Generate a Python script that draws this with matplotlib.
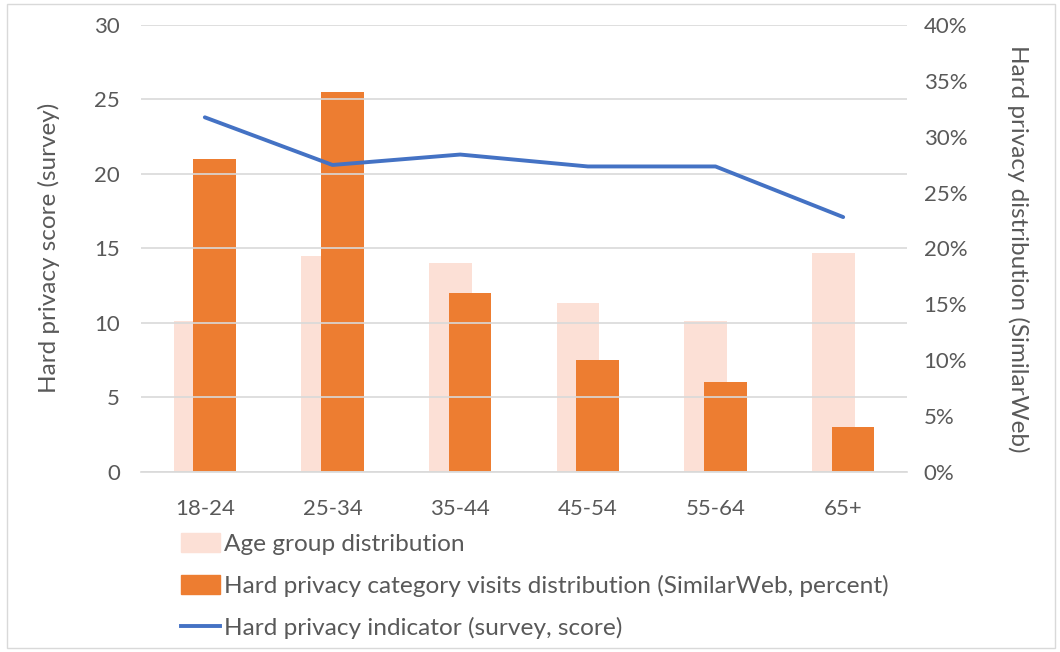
import matplotlib
matplotlib.use("Agg")
import matplotlib.pyplot as plt
import numpy as np
from matplotlib.patches import Rectangle
from matplotlib.lines import Line2D
from matplotlib.ticker import FuncFormatter

age_groups = ["18-24", "25-34", "35-44", "45-54", "55-64", "65+"]
age_distribution = [13.5, 19.3, 18.7, 15.1, 13.5, 19.6]          # percent
visits_distribution = [28, 34, 16, 10, 8, 4]                    # percent
privacy_score = [23.8, 20.6, 21.3, 20.5, 20.5, 17.1]            # survey score

TEXT = "#595959"
GRID = "#D9D9D9"
ORANGE = "#ED7D31"
PINK = "#FCE0D6"
BLUE = "#4472C4"

plt.rcParams["font.family"] = ["Lato", "DejaVu Sans"]

fig = plt.figure(figsize=(10.6, 6.52), dpi=100)
ax = fig.add_axes([141 / 1060, 1 - 471.7 / 652, 766 / 1060, 446.7 / 652])
ax2 = ax.twinx()

x = np.arange(len(age_groups))
w = 0.335
off = 0.077
ax2.bar(x - off, age_distribution, width=w, color=PINK, zorder=2)
ax2.bar(x + off, visits_distribution, width=w, color=ORANGE, zorder=3)
ax2.set_ylim(0, 40)
ax2.set_yticks(range(0, 41, 5))
ax2.yaxis.set_major_formatter(FuncFormatter(lambda v, p: f"{int(v)}%"))

ax.set_ylim(0, 30)
ax.set_yticks(range(0, 31, 5))
ax.set_xlim(-0.5, len(age_groups) - 0.5)
ax.set_xticks(x)
ax.set_xticklabels(age_groups)
ax.yaxis.grid(True, color=GRID, linewidth=1.2)
ax.set_axisbelow(True)

# line drawn on top of the bars
ax.set_zorder(ax2.get_zorder() + 1)
ax.patch.set_visible(False)
ax2.patch.set_visible(True)
ax2.patch.set_facecolor("white")
ax.plot(x, privacy_score, color=BLUE, linewidth=2.8, solid_capstyle="round",
        zorder=5)

for a in (ax, ax2):
    for s in a.spines.values():
        s.set_visible(False)
    a.tick_params(length=0, labelsize=16, colors=TEXT)
ax.spines["bottom"].set_visible(True)
ax.spines["bottom"].set_color(GRID)
ax.spines["bottom"].set_linewidth(1.2)
ax.tick_params(axis="y", pad=15)
ax.tick_params(axis="x", pad=20)
ax2.tick_params(axis="y", pad=12)

ax.set_ylabel("Hard privacy score (survey)", fontsize=17.5, color=TEXT)
ax.yaxis.set_label_coords(-(141 - 60) / 766, 0.5)
ax2.set_ylabel("Hard privacy distribution (SimilarWeb)", fontsize=17.5,
               color=TEXT, rotation=-90, va="center")
ax2.yaxis.set_label_coords(1 + (1018 - 907) / 766, 0.5)

handles = [
    Rectangle((0, 0), 1, 1, color=PINK),
    Rectangle((0, 0), 1, 1, color=ORANGE),
    Line2D([0], [0], color=BLUE, linewidth=2.8),
]
labels = [
    "Age group distribution",
    "Hard privacy category visits distribution (SimilarWeb, percent)",
    "Hard privacy indicator (survey, score)",
]
leg = fig.legend(handles, labels, loc="upper left",
                 bbox_to_anchor=(181 / 1060, 1 - 533 / 652),
                 frameon=False, fontsize=17.6, labelcolor=TEXT,
                 handlelength=1.6, handleheight=0.85, handletextpad=0.15,
                 labelspacing=0.8, borderaxespad=0, borderpad=0)

border = Rectangle((7 / 1060, 4 / 652), 1048 / 1060, 644 / 652,
                   transform=fig.transFigure, fill=False,
                   edgecolor="#D9D9D9", linewidth=1.0)
fig.patches.append(border)

fig.savefig("out.png", dpi=100, facecolor="white")
